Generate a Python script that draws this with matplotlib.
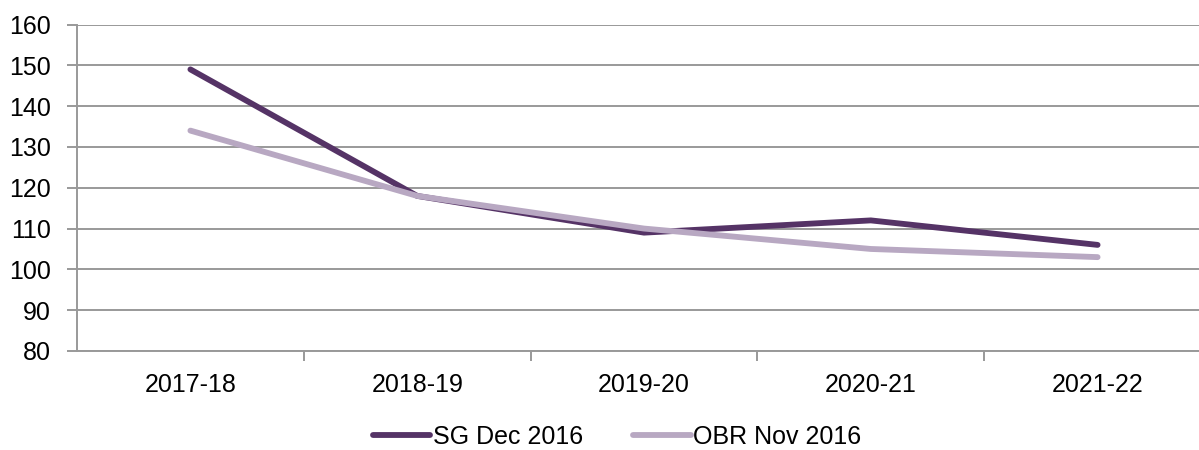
import matplotlib
matplotlib.use("Agg")
import matplotlib.pyplot as plt

# data
years = ["2017-18", "2018-19", "2019-20", "2020-21", "2021-22"]
sg_dec_2016 = [149, 118, 109, 112, 106]
obr_nov_2016 = [134, 118, 110, 105, 103]

plt.rcParams['font.family'] = ['Liberation Sans', 'DejaVu Sans']

fig = plt.figure(figsize=(11.99, 4.5), dpi=100)
ax = fig.add_axes([77 / 1199, 1 - 351 / 450, 1134 / 1199, (351 - 24.5) / 450])

x = list(range(len(years)))
ax.plot(x, sg_dec_2016, color='#553366', lw=4.2, solid_capstyle='round', label='SG Dec 2016', zorder=3)
ax.plot(x, obr_nov_2016, color='#b8a8c2', lw=4.2, solid_capstyle='round', label='OBR Nov 2016', zorder=4)

ax.set_ylim(80, 160)
ax.set_yticks(range(80, 161, 10))
ax.set_xlim(-0.5, len(years) - 0.5)

# category labels centred, tick marks between categories
ax.set_xticks(x)
ax.set_xticklabels(years)
ax.set_xticks([i + 0.5 for i in range(len(years) - 1)], minor=True)
ax.tick_params(axis='x', which='major', length=0, pad=16, labelsize=18)
ax.tick_params(axis='x', which='minor', length=7, width=1.2, color='#888888', direction='out')
ax.tick_params(axis='y', length=7, width=1.2, color='#888888', direction='out', pad=12, labelsize=18)

ax.grid(axis='y', color='#999999', lw=1.4)
ax.set_axisbelow(True)
for s in ['top', 'right']:
    ax.spines[s].set_visible(False)
ax.spines['left'].set_color('#999999')
ax.spines['left'].set_linewidth(1.4)
ax.spines['bottom'].set_color('#999999')
ax.spines['bottom'].set_linewidth(1.4)

fig.legend(loc='center', bbox_to_anchor=(617 / 1199, 1 - 437 / 450), ncol=2, frameon=False,
           fontsize=18, handlelength=2.3, handletextpad=0.1, columnspacing=2.0)

fig.savefig("out.png", dpi=100)
